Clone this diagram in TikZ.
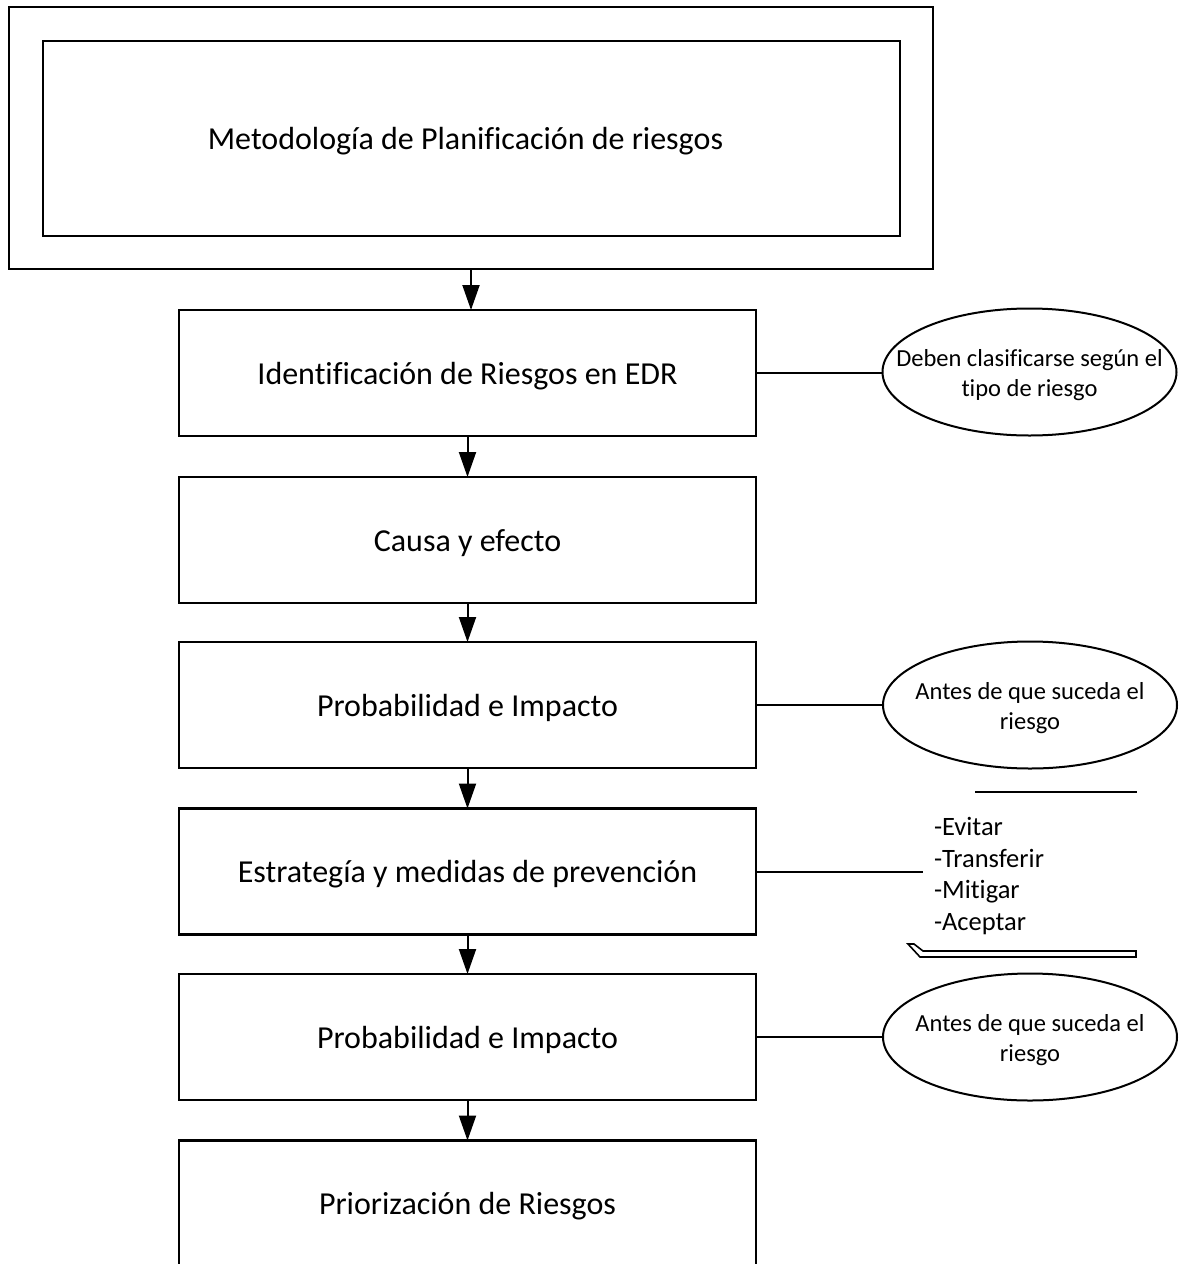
\documentclass[tikz,border=0pt]{standalone}
\usepackage{fontspec}
\setmainfont{Carlito}[Ligatures=CommonOff]
\usetikzlibrary{arrows.meta,shapes.geometric}

\begin{document}
\begin{tikzpicture}[x=1pt,y=-1pt,
  every node/.style={inner sep=0pt, outer sep=0pt},
  boxtext/.style={font=\fontsize{32}{38}\selectfont, yshift=-3pt},
  frame/.style={draw, line width=2.2pt, rectangle, minimum width=577pt, minimum height=126pt,
    label={[boxtext]center:#1}},
  noteshape/.style={draw, line width=2pt, ellipse, minimum width=294pt, minimum height=127pt},
  notetext/.style={align=center, yshift=-3.5pt, font=\fontsize{24.5}{30}\selectfont},
  flow/.style={line width=2pt, -{Triangle[width=17pt,length=25pt]}},
  link/.style={line width=2pt}]

\useasboundingbox (0,0) rectangle (1181,1264);
\clip (0,0) rectangle (1181,1264);

% title block: double frame
\node[draw, line width=2.2pt, minimum width=924pt, minimum height=262pt] (outer) at (471,138) {};
\node[draw, line width=2.2pt, minimum width=857pt, minimum height=195pt] (title) at (471.5,138.5) {};
\node[boxtext, xshift=-6pt] (titletext) at (title) {Metodología de Planificación de riesgos};

% process steps
\node[frame={Identificación de Riesgos en EDR}] (b1) at (467.5,373) {};
\node[frame={Causa y efecto}] (b2) at (467.5,540) {};
\node[frame={Probabilidad e Impacto}] (b3) at (467.5,705) {};
\node[frame={Estrategía y medidas de prevención}] (b4) at (467.5,871.5) {};
\node[frame={Probabilidad e Impacto}] (b5) at (467.5,1037) {};
\node[frame={Priorización de Riesgos}] (b6) at (467.5,1203.5) {};

% flow arrows
\draw[flow] (outer.south) -- (outer.south |- b1.north);
\draw[flow] (b1.south) -- (b2.north);
\draw[flow] (b2.south) -- (b3.north);
\draw[flow] (b3.south) -- (b4.north);
\draw[flow] (b4.south) -- (b5.north);
\draw[flow] (b5.south) -- (b6.north);

% side notes
\node[noteshape] (n1) at (1029.5,372) {};
\node[notetext] (n1text) at (n1) {Deben clasificarse según el\\tipo de riesgo};
\node[noteshape] (n2) at (1030,705) {};
\node[notetext] (n2text) at (n2) {Antes de que suceda el\\riesgo};
\node[noteshape] (n3) at (1030,1037) {};
\node[notetext] (n3text) at (n3) {Antes de que suceda el\\riesgo};

\draw[link] (b1.east) -- (b1.east -| n1.west);
\draw[link] (b3.east) -- (b3.east -| n2.west);
\draw[link] (b5.east) -- (b5.east -| n3.west);

% strategy options with bracket lines
\node[anchor=west, align=left, font=\fontsize{26.5}{31.7}\selectfont] (opts) at (934,876)
  {-Evitar\\-Transferir\\-Mitigar\\-Aceptar};
\coordinate (optsin) at (923,873);
\draw[link] (b4.east) -- (b4.east -| optsin);

\coordinate (barL) at (975,792);
\coordinate (barR) at (1137,792);
\draw[link] (barL) -- (barR);
\draw[line width=1.6pt] (908,944) -- (914,944) -- (923,951) -- (1136,951) -- (1136,957) -- (920,957) -- cycle;

\end{tikzpicture}
\end{document}
